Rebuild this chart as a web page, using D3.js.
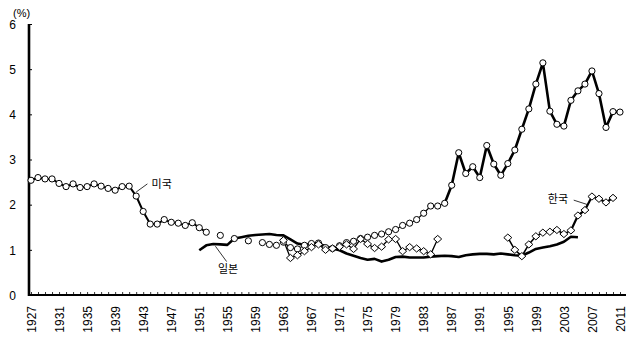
<!DOCTYPE html>
<html><head><meta charset="utf-8">
<script src="https://cdn.jsdelivr.net/npm/d3@7"></script>
<style>body{margin:0;background:#fff}svg{display:block}</style>
</head><body><svg id="c" width="640" height="342"></svg>
<script>
// ---- data ----
const usFirstYear = 1927;
const usValues = [
  2.54,2.60,2.57,2.57,2.47,2.40,2.46,2.38,2.40,2.46, // 1927-1936
  2.41,2.36,2.32,2.40,2.41,2.19,1.85,1.57,1.57,1.67, // 1937-1946
  1.61,1.59,1.54,1.60,1.49,1.39,null,1.32,null,1.25, // 1947-1956
  null,1.20,null,1.16,1.12,1.10,1.17,1.05,1.02,1.10, // 1957-1966
  1.14,1.15,1.05,1.03,1.09,1.16,1.19,1.25,1.28,1.32, // 1967-1976
  1.35,1.40,1.45,1.54,1.59,1.67,1.81,1.97,1.97,2.03, // 1977-1986
  2.43,3.15,2.69,2.84,2.60,3.31,2.90,2.65,2.91,3.21, // 1987-1996
  3.67,4.12,4.67,5.14,4.07,3.78,3.74,4.31,4.52,4.67, // 1997-2006
  4.96,4.46,3.71,4.06,4.05                           // 2007-2011
];
const jpFirstYear = 1951;
const jpValues = [
  0.99,1.10,1.13,1.12,1.11,1.25,1.28,1.31,1.33,1.34, // 1951-1960
  1.35,1.33,1.32,1.23,1.14,1.11,1.14,1.14,1.08,1.03, // 1961-1970
  0.99,0.92,0.87,0.82,0.78,0.80,0.74,0.78,0.84,0.85, // 1971-1980
  0.83,0.83,0.83,0.85,0.86,0.87,0.86,0.84,0.88,0.90, // 1981-1990
  0.91,0.91,0.90,0.92,0.90,0.88,0.87,0.94,1.02,1.05, // 1991-2000
  1.08,1.12,1.18,1.29,1.28                           // 2001-2005
];
const krFirstYear = 1963;
const krValues = [
  1.21,0.82,0.88,0.97,1.06,1.12,1.00,1.03,1.07,1.12, // 1963-1972
  1.02,1.24,1.13,1.04,1.07,1.23,1.24,0.97,1.06,1.03, // 1973-1982
  0.97,0.90,1.24,null,null,null,null,null,null,null, // 1983-1992
  null,null,1.27,1.00,0.86,1.12,1.30,1.38,1.40,1.44, // 1993-2002
  1.35,1.43,1.76,1.88,2.18,2.13,2.05,2.15            // 2003-2010
];
const yTicks = [0,1,2,3,4,5,6];
const xLabelYears = [1927,1931,1935,1939,1943,1947,1951,1955,1959,1963,1967,1971,1975,1979,1983,1987,1991,1995,1999,2003,2007,2011];
const unitLabel = '(%)';
const seriesNames = {us:'미국', jp:'일본', kr:'한국'};

// ---- build ----
const toPts = (first, vals) => vals.map((v,i)=>({year:first+i, v}));
const us = toPts(usFirstYear, usValues);
const jp = toPts(jpFirstYear, jpValues);
const kr = toPts(krFirstYear, krValues);

const svg = d3.select('#c');
const x = d3.scaleLinear().domain([1927, 2011]).range([31, 620]);
const y = d3.scaleLinear().domain([0, 6]).range([295, 24]);

// axes
const yAxis = d3.axisLeft(y).tickValues(yTicks).tickSize(-3).tickPadding(13).tickFormat(d3.format('d'));
const gy = svg.append('g').attr('transform','translate(29,0)').call(yAxis);
gy.select('.domain').remove();
gy.selectAll('.tick line').attr('stroke','#000').attr('stroke-width',1);
gy.selectAll('.tick text').attr('font-family','"Liberation Sans", Arial, sans-serif').attr('font-size',12).attr('fill','#000').attr('dy','0.35em');

const allYears = d3.range(1927, 2012);
const xTickAxis = d3.axisBottom(x).tickValues(allYears).tickSize(-3).tickFormat('');
const gxt = svg.append('g').attr('transform','translate(0,295)').call(xTickAxis);
gxt.select('.domain').remove();
gxt.selectAll('.tick line').attr('stroke','#000').attr('stroke-width',0.8);

const xLabAxis = d3.axisBottom(x).tickValues(xLabelYears).tickSize(0).tickFormat(d3.format('d'));
const gxl = svg.append('g').attr('transform','translate(0,295)').call(xLabAxis);
gxl.select('.domain').remove();
gxl.selectAll('.tick text')
  .attr('font-family','"Liberation Sans Narrow", "Liberation Sans", Arial, sans-serif')
  .attr('font-size',12).attr('fill','#000')
  .attr('transform','rotate(-90)')
  .attr('text-anchor','end')
  .attr('x',-11).attr('y',0).attr('dy','0.35em');

// axis lines
svg.append('line').attr('x1',29).attr('x2',29).attr('y1',y(6)).attr('y2',y(0)+1)
  .attr('stroke','#000').attr('stroke-width',2.6);
svg.append('line').attr('x1',28).attr('x2',x(2011)+6).attr('y1',y(0)).attr('y2',y(0))
  .attr('stroke','#000').attr('stroke-width',2);

svg.append('text').attr('x',13).attr('y',17).text(unitLabel)
  .attr('font-family','"Liberation Sans", Arial, sans-serif').attr('font-size',11);

// lines
const lineGen = (pred) => d3.line().defined(d => d.v != null && pred(d.year)).x(d=>x(d.year)).y(d=>y(d.v));
const g = svg.append('g');
// US segments
g.append('path').datum(us).attr('d', lineGen(yr => yr <= 1952)).attr('fill','none').attr('stroke','#000').attr('stroke-width',2);
g.append('path').datum(us).attr('d', lineGen(yr => yr >= 1963 && yr <= 1986)).attr('fill','none').attr('stroke','#000').attr('stroke-width',1.2);
g.append('path').datum(us).attr('d', lineGen(yr => yr >= 1986)).attr('fill','none').attr('stroke','#000').attr('stroke-width',2.6).attr('stroke-linejoin','round');
// Korea
g.append('path').datum(kr).attr('d', lineGen(yr => yr <= 1985)).attr('fill','none').attr('stroke','#000').attr('stroke-width',1.3);
g.append('path').datum(kr).attr('d', lineGen(yr => yr >= 1995 && yr <= 2004)).attr('fill','none').attr('stroke','#000').attr('stroke-width',1.6);
g.append('path').datum(kr).attr('d', lineGen(yr => yr >= 2004)).attr('fill','none').attr('stroke','#000').attr('stroke-width',2.2);
// Japan
g.append('path').datum(jp).attr('d', lineGen(() => true)).attr('fill','none').attr('stroke','#000').attr('stroke-width',2.6).attr('stroke-linejoin','round');

// markers
g.selectAll('.us').data(us.filter(d=>d.v!=null)).join('circle')
  .attr('cx',d=>x(d.year)).attr('cy',d=>y(d.v)).attr('r',3.1)
  .attr('fill','#fff').attr('stroke','#000').attr('stroke-width',1);
g.selectAll('.kr').data(kr.filter(d=>d.v!=null)).join('path')
  .attr('d',d=>{const cx=x(d.year), cy=y(d.v); return `M${cx-4},${cy}L${cx},${cy-3.6}L${cx+4},${cy}L${cx},${cy+3.6}Z`;})
  .attr('fill','#fff').attr('stroke','#000').attr('stroke-width',1);

// annotations
const ann = [
  {t:seriesNames.us, x1:1942.0, y1:2.28, x2:1943.6, y2:2.46, tx:1944.2, ty:2.38, anchor:'start'},
  {t:seriesNames.jp, x1:1953.3, y1:1.08, x2:1954.9, y2:0.74, tx:1955.1, ty:0.48, anchor:'middle'},
  {t:seriesNames.kr, x1:2006.4, y1:2.00, x2:2004.4, y2:2.10, tx:2003.6, ty:2.03, anchor:'end'}
];
ann.forEach(a=>{
  svg.append('line').attr('x1',x(a.x1)).attr('y1',y(a.y1)).attr('x2',x(a.x2)).attr('y2',y(a.y2))
    .attr('stroke','#000').attr('stroke-width',0.8);
  svg.append('text').attr('x',x(a.tx)).attr('y',y(a.ty)).attr('text-anchor',a.anchor)
    .attr('font-family','"Noto Sans CJK KR", sans-serif').attr('font-size',11).text(a.t);
});
</script></body></html>
